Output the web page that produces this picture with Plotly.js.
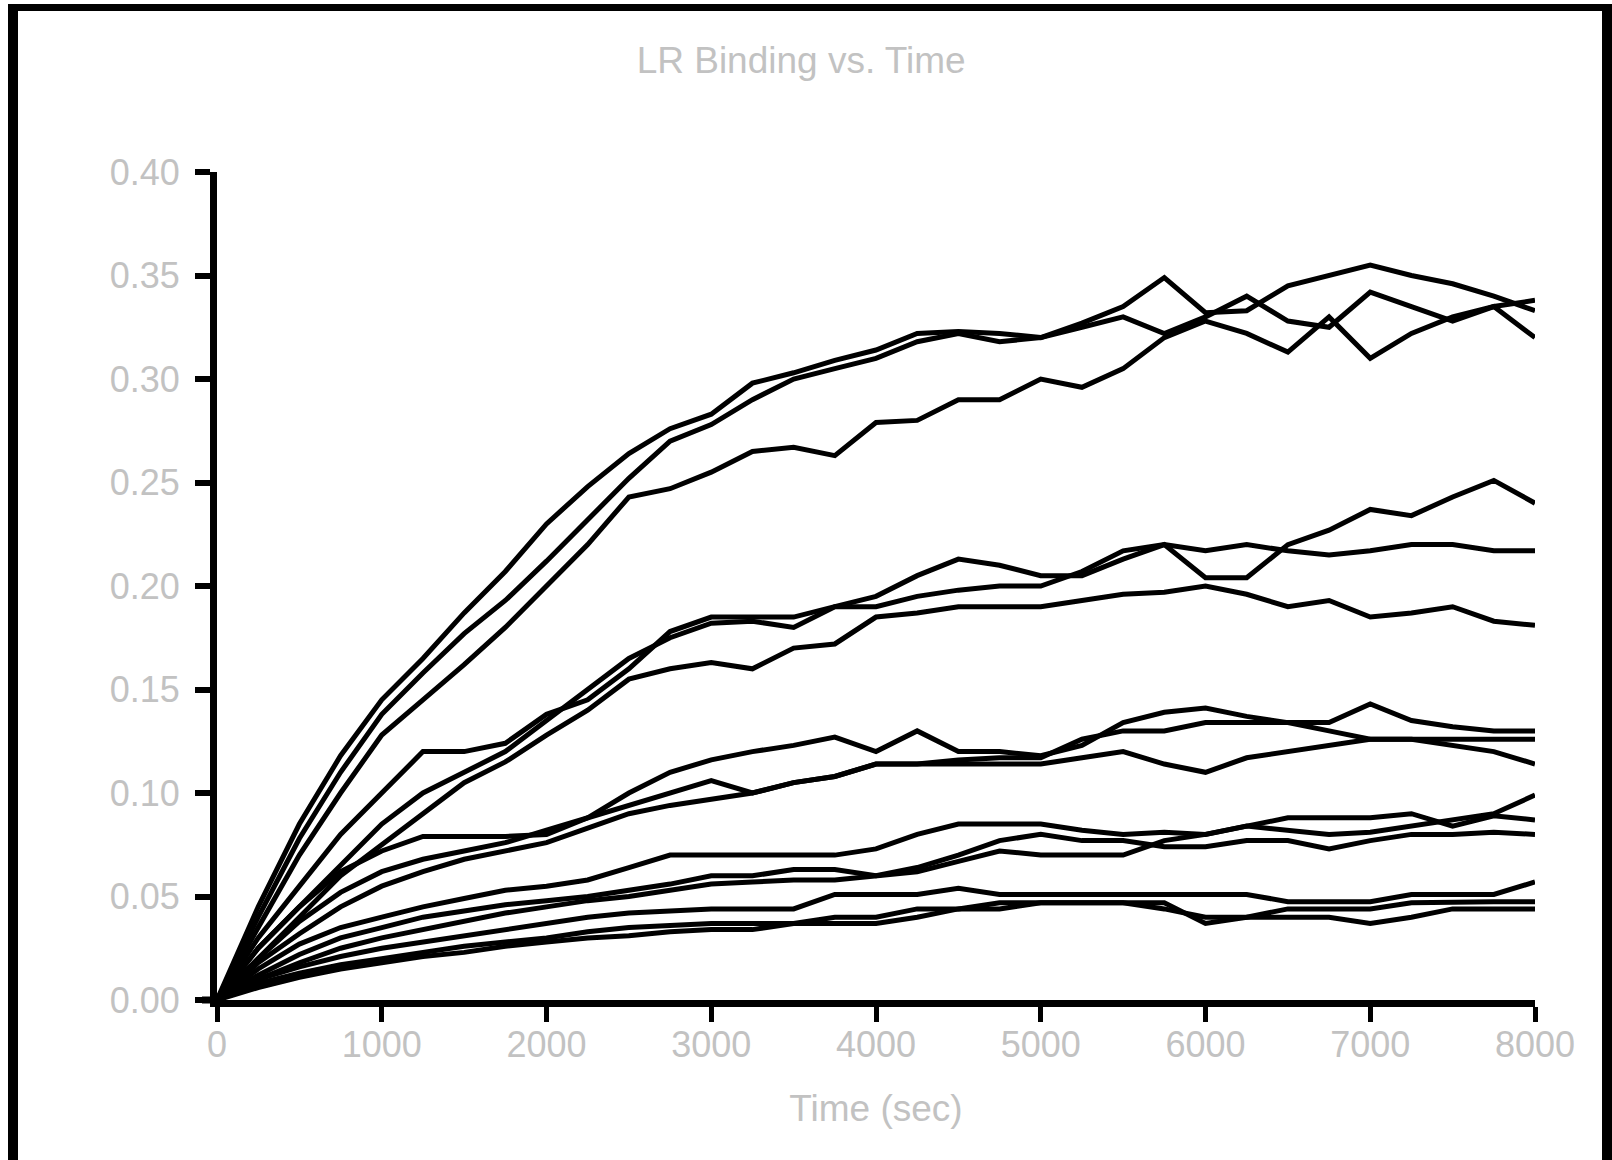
<!DOCTYPE html>
<html>
<head>
<meta charset="utf-8">
<script src="https://cdn.plot.ly/plotly-3.0.1.min.js"></script>
<style>
  html, body { margin: 0; padding: 0; background: #ffffff; }
  #chart { width: 1612px; height: 1160px; }
</style>
</head>
<body>
<div id="chart"></div>
<script>
// Time points (sec)
const times = [0,250,500,750,1000,1250,1500,1750,2000,2250,2500,2750,3000,3250,3500,3750,4000,4250,4500,4750,5000,5250,5500,5750,6000,6250,6500,6750,7000,7250,7500,7750,8000];

// LR binding runs (15 stochastic runs, 5 groups of 3)
const runA1 = [0,0.045,0.085,0.118,0.145,0.165,0.187,0.207,0.23,0.248,0.264,0.276,0.283,0.298,0.303,0.309,0.314,0.322,0.323,0.322,0.32,0.327,0.335,0.349,0.332,0.333,0.345,0.35,0.355,0.35,0.346,0.34,0.333];
const runA2 = [0,0.04,0.078,0.11,0.138,0.158,0.177,0.193,0.212,0.232,0.252,0.27,0.278,0.29,0.3,0.305,0.31,0.318,0.322,0.318,0.32,0.325,0.33,0.322,0.33,0.34,0.328,0.325,0.342,0.335,0.328,0.335,0.338];
const runA3 = [0,0.035,0.07,0.1,0.128,0.145,0.162,0.18,0.2,0.22,0.243,0.247,0.255,0.265,0.267,0.263,0.279,0.28,0.29,0.29,0.3,0.296,0.305,0.32,0.328,0.322,0.313,0.33,0.31,0.322,0.33,0.335,0.32];
const runB1 = [0,0.03,0.055,0.08,0.1,0.12,0.12,0.124,0.138,0.145,0.16,0.178,0.185,0.185,0.185,0.19,0.195,0.205,0.213,0.21,0.205,0.205,0.213,0.22,0.204,0.204,0.22,0.227,0.237,0.234,0.243,0.251,0.24];
const runB2 = [0,0.025,0.045,0.065,0.085,0.1,0.11,0.12,0.135,0.15,0.165,0.175,0.182,0.183,0.18,0.19,0.19,0.195,0.198,0.2,0.2,0.207,0.217,0.22,0.217,0.22,0.217,0.215,0.217,0.22,0.22,0.217,0.217];
const runB3 = [0,0.02,0.04,0.06,0.075,0.09,0.105,0.115,0.128,0.14,0.155,0.16,0.163,0.16,0.17,0.172,0.185,0.187,0.19,0.19,0.19,0.193,0.196,0.197,0.2,0.196,0.19,0.193,0.185,0.187,0.19,0.183,0.181];
const runC1 = [0,0.025,0.045,0.062,0.072,0.079,0.079,0.079,0.08,0.088,0.1,0.11,0.116,0.12,0.123,0.127,0.12,0.13,0.12,0.12,0.118,0.123,0.134,0.139,0.141,0.137,0.134,0.134,0.143,0.135,0.132,0.13,0.13];
const runC2 = [0,0.02,0.038,0.052,0.062,0.068,0.072,0.076,0.082,0.088,0.094,0.1,0.106,0.1,0.105,0.108,0.114,0.114,0.116,0.117,0.117,0.126,0.13,0.13,0.134,0.134,0.134,0.13,0.126,0.126,0.126,0.126,0.126];
const runC3 = [0,0.018,0.032,0.045,0.055,0.062,0.068,0.072,0.076,0.083,0.09,0.094,0.097,0.1,0.105,0.108,0.114,0.114,0.114,0.114,0.114,0.117,0.12,0.114,0.11,0.117,0.12,0.123,0.126,0.126,0.123,0.12,0.114];
const runD1 = [0,0.015,0.027,0.035,0.04,0.045,0.049,0.053,0.055,0.058,0.064,0.07,0.07,0.07,0.07,0.07,0.073,0.08,0.085,0.085,0.085,0.082,0.08,0.081,0.08,0.084,0.088,0.088,0.088,0.09,0.084,0.089,0.087];
const runD2 = [0,0.012,0.022,0.03,0.035,0.04,0.043,0.046,0.048,0.05,0.053,0.056,0.06,0.06,0.063,0.063,0.06,0.064,0.07,0.077,0.08,0.077,0.077,0.074,0.074,0.077,0.077,0.073,0.077,0.08,0.08,0.081,0.08];
const runD3 = [0,0.01,0.018,0.025,0.03,0.034,0.038,0.042,0.045,0.048,0.05,0.053,0.056,0.057,0.058,0.058,0.06,0.062,0.067,0.072,0.07,0.07,0.07,0.077,0.08,0.084,0.082,0.08,0.081,0.084,0.087,0.09,0.099];
const runE1 = [0,0.01,0.016,0.021,0.025,0.028,0.031,0.034,0.037,0.04,0.042,0.043,0.044,0.044,0.044,0.051,0.051,0.051,0.054,0.051,0.051,0.051,0.051,0.051,0.051,0.051,0.0475,0.0475,0.0475,0.051,0.051,0.051,0.057];
const runE2 = [0,0.008,0.013,0.017,0.02,0.023,0.026,0.028,0.03,0.033,0.035,0.036,0.037,0.037,0.037,0.04,0.04,0.044,0.044,0.047,0.047,0.047,0.047,0.044,0.04,0.04,0.04,0.04,0.037,0.04,0.044,0.044,0.044];
const runE3 = [0,0.006,0.011,0.015,0.018,0.021,0.023,0.026,0.028,0.03,0.031,0.033,0.034,0.034,0.037,0.037,0.037,0.04,0.044,0.044,0.047,0.047,0.047,0.047,0.037,0.04,0.044,0.044,0.044,0.047,0.0475,0.0475,0.0475];

const xTickVals = [0,1000,2000,3000,4000,5000,6000,7000,8000];
const xTickText = ["0","1000","2000","3000","4000","5000","6000","7000","8000"];
const yTickVals = [0,0.05,0.1,0.15,0.2,0.25,0.3,0.35,0.4];
const yTickText = ["0.00","0.05","0.10","0.15","0.20","0.25","0.30","0.35","0.40"];

const runs = [runA1, runA2, runA3, runB1, runB2, runB3, runC1, runC2, runC3, runD1, runD2, runD3, runE1, runE2, runE3];

const traces = runs.map(r => ({
  x: times, y: r, type: 'scatter', mode: 'lines',
  line: { color: '#000000', width: 5 },
  showlegend: false, hoverinfo: 'skip'
}));

const W = 1612, H = 1160;
const L = 217, R = 77, T = 172, B = 160;
const pw = W - L - R, ph = H - T - B;
const px = v => (v - L) / pw;
const py = v => (H - B - v) / ph;

const grey = '#c2c2c2';
const fontFam = 'Liberation Sans, Arial, sans-serif';

const layout = {
  width: W, height: H,
  paper_bgcolor: '#ffffff', plot_bgcolor: '#ffffff',
  margin: { l: L, r: R, t: T, b: B, pad: 0 },
  font: { family: fontFam, color: grey, size: 36 },
  title: { text: 'LR Binding vs. Time', font: { family: fontFam, size: 37, color: grey },
           x: 0.497, xref: 'container', xanchor: 'center', y: 1 - 60 / H, yref: 'container', yanchor: 'middle' },
  xaxis: {
    range: [0, 8000], tickmode: 'array', tickvals: xTickVals, ticktext: xTickText,
    ticks: 'outside', ticklen: 15, tickwidth: 5, tickcolor: '#000',
    showline: true, linecolor: '#000', linewidth: 7, showgrid: false, zeroline: false,
    tickfont: { family: fontFam, size: 36, color: grey },
    ticklabelstandoff: -8,
    title: { text: 'Time (sec)', font: { family: fontFam, size: 37, color: grey }, standoff: 33 },
    fixedrange: true
  },
  yaxis: {
    range: [0, 0.4], tickmode: 'array', tickvals: yTickVals, ticktext: yTickText,
    ticks: 'outside', ticklen: 15, tickwidth: 6, tickcolor: '#000',
    showline: true, linecolor: '#000', linewidth: 7, showgrid: false, zeroline: false,
    tickfont: { family: fontFam, size: 36, color: grey },
    ticklabelstandoff: 8,
    fixedrange: true
  },
  shapes: [
    { type: 'rect', xref: 'paper', yref: 'paper', x0: px(8), x1: px(18), y0: py(1160), y1: py(4), fillcolor: '#000', line: { width: 0 } },
    { type: 'rect', xref: 'paper', yref: 'paper', x0: px(8), x1: px(1612), y0: py(11), y1: py(4), fillcolor: '#000', line: { width: 0 } },
    { type: 'rect', xref: 'paper', yref: 'paper', x0: px(1602), x1: px(1612), y0: py(1160), y1: py(4), fillcolor: '#000', line: { width: 0 } },
    { type: 'rect', xref: 'paper', yref: 'paper', x0: px(202), x1: px(217), y0: py(1003.5), y1: py(996.5), fillcolor: '#000', line: { width: 0 } }
  ]
};

Plotly.newPlot('chart', traces, layout, { displayModeBar: false, staticPlot: true });
</script>
</body>
</html>
